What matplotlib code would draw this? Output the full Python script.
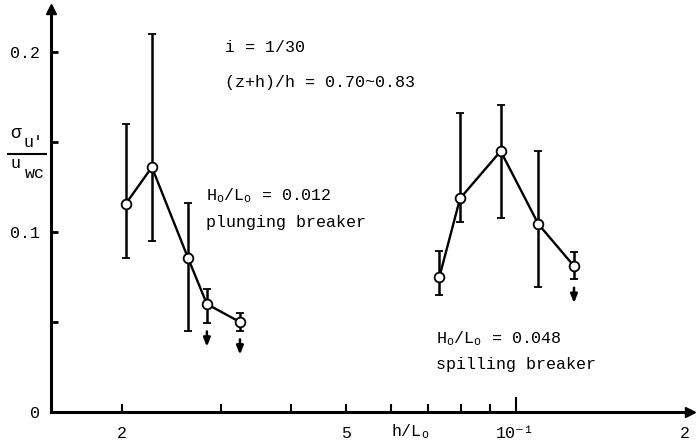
import numpy as np
import matplotlib
matplotlib.use('Agg')
import matplotlib.pyplot as plt
from matplotlib.ticker import NullLocator
from matplotlib.lines import Line2D

plt.rcParams['font.family'] = ['Liberation Mono', 'DejaVu Sans']
plt.rcParams['mathtext.fontset'] = 'custom'
plt.rcParams['mathtext.rm'] = 'Liberation Mono'
plt.rcParams['mathtext.it'] = 'Liberation Mono'

# plunging breaker, H0/L0 = 0.012
x_pl = [0.0203, 0.0226, 0.0262, 0.0283, 0.0324]
y_pl = [0.1156, 0.1361, 0.0856, 0.0600, 0.0500]
hi_pl = [0.160, 0.210, 0.1161, 0.0683, 0.0550]
lo_pl = [0.0856, 0.0950, 0.0450, 0.0494, 0.0450]
down_pl = [0.0283, 0.0324]

# spilling breaker, H0/L0 = 0.048
x_sp = [0.0732, 0.0797, 0.0941, 0.1098, 0.1270]
y_sp = [0.0748, 0.1187, 0.1450, 0.1044, 0.0811]
hi_sp = [0.0896, 0.1660, 0.1706, 0.1450, 0.0890]
lo_sp = [0.0650, 0.1054, 0.1076, 0.0696, 0.0737]
down_sp = [0.1270]

xtick_pos = [0.02, 0.03, 0.04, 0.05, 0.06, 0.07, 0.08, 0.09, 0.1, 0.2]
xtick_lab = ['2', '', '', '5', '', '', '', '', '10⁻¹', '2']

W, H = 699, 446
fig = plt.figure(figsize=(W / 100, H / 100), dpi=100)
ax = fig.add_axes([51 / W, 34 / H, (690 - 51) / W, (412 - 9) / H])
ax.set_xscale('log')
ax.set_xlim(0.01496, 0.2041)
ax.set_ylim(0, 0.224)

for xs, ys, hs, ls in [(x_pl, y_pl, hi_pl, lo_pl), (x_sp, y_sp, hi_sp, lo_sp)]:
    xs, ys, hs, ls = map(np.array, (xs, ys, hs, ls))
    ax.errorbar(xs, ys, yerr=[ys - ls, hs - ys], fmt='-o', color='k', lw=1.7,
                mfc='white', mec='k', ms=7, mew=1.3, capsize=3,
                elinewidth=1.8, capthick=1.8, zorder=3)

# upper-limit arrows below some points
for xs, ls, dn in [(x_pl, lo_pl, down_pl), (x_sp, lo_sp, down_sp)]:
    for xv, lv in zip(xs, ls):
        if xv in dn:
            ax.annotate('', xy=(xv, lv), xytext=(0, -17), textcoords='offset points',
                        arrowprops=dict(arrowstyle='<|-,head_length=0.5,head_width=0.2',
                                        shrinkA=0, shrinkB=6, lw=1.8, color='k'))

for s in ['top', 'right']:
    ax.spines[s].set_visible(False)
for s in ['left', 'bottom']:
    ax.spines[s].set_linewidth(2.2)
ax.plot(1, 0, marker='>', color='k', ms=7, transform=ax.transAxes, clip_on=False)
ax.plot(0, 1, marker='^', color='k', ms=7, transform=ax.transAxes, clip_on=False)

ax.set_yticks([0, 0.1, 0.2], ['0', '0.1', '0.2'])
ax.set_yticks([0.05, 0.15], minor=True)
ax.tick_params(axis='y', which='both', direction='in', length=5, width=2,
               labelsize=12, pad=8)
ax.xaxis.set_minor_locator(NullLocator())
ax.set_xticks(xtick_pos, xtick_lab)
ax.tick_params(axis='x', direction='in', length=6, width=1.5, labelsize=12, pad=10)
ticks = ax.xaxis.get_major_ticks()
ticks[8].tick1line.set_markersize(11)
ticks[9].tick1line.set_visible(False)


def ftext(px, py, s, size=12, **kw):
    fig.text(px / W, 1 - py / H, s, va='center', fontsize=size, **kw)


ftext(225, 47, 'i = 1/30')
ftext(225, 83, '(z+h)/h = 0.70~0.83')
ftext(206, 196, r'$\mathregular{H_o/L_o}$ = 0.012')
ftext(206, 222, 'plunging breaker')
ftext(436, 339, r'$\mathregular{H_o/L_o}$ = 0.048')
ftext(436, 364, 'spilling breaker')
ftext(410, 432, r'$\mathregular{h/L_o}$', ha='center')

# y label as a stacked fraction
ftext(10, 134, 'σ', size=13)
ftext(23, 143, "u'")
ftext(11, 164, 'u')
ftext(25, 173, 'wc')
fig.add_artist(Line2D([8 / W, 46 / W], [1 - 154 / H, 1 - 154 / H], color='k', lw=1.5))

fig.savefig('out.png', dpi=100)
